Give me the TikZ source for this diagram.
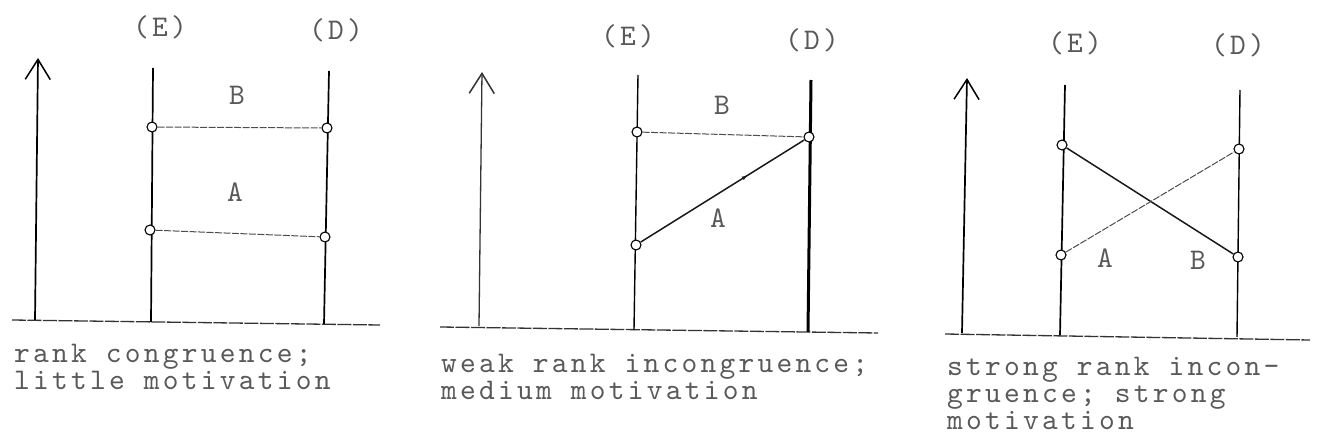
\documentclass[tikz,border=0pt]{standalone}
\usepackage{fontspec}
\usetikzlibrary{arrows.meta,decorations.markings}
\newfontfamily\typew{lmmono10-regular.otf}[LetterSpace=10.8]
\newcommand{\typewfont}{\typew\fontsize{30}{27}\selectfont}
\tikzset{
  txt/.style={font=\typewfont, text=black!65, inner sep=0pt},
  captxt/.style={txt, anchor=base west, align=left},
  lbltxt/.style={txt, anchor=base},
  abtxt/.style={txt, anchor=center},
  vline/.style={line width=1.7pt, black},
  baseln/.style={line width=1.3pt, black!80, dash pattern=on 14pt off 1.5pt},
  axisline/.style={line width=1.7pt, black, -{Straight Barb[length=20pt,width=25pt,line width=1.5pt]}},
  dotpt/.style={circle, draw=black, line width=1.1pt, fill=white, minimum size=10pt, inner sep=0pt},
  conn/.style={line width=1pt, black!70, dash pattern=on 7pt off 1.5pt},
  connsolid/.style={line width=1.5pt, black!90},
}
\begin{document}
\begin{tikzpicture}[x=1pt,y=-1pt]
\useasboundingbox (0,0) rectangle (1318,444);

% ---------------- Panel 1 ----------------
\coordinate (p1b0) at (12,320);
\coordinate (p1b1) at (380,325);
\draw[baseln] (p1b0) -- (p1b1);
\coordinate (p1a0) at (35,320);
\coordinate (p1a1) at (38,58);
\draw[axisline] (p1a0) -- (p1a1);
\coordinate (p1e0) at (153,68);
\coordinate (p1e1) at (151,322);
\draw[vline] (p1e0) -- (p1e1);
\coordinate (p1d0) at (329,71);
\coordinate (p1d1) at (324,324);
\draw[vline] (p1d0) -- (p1d1);
\node[dotpt] (p1E1) at (152,127) {};
\node[dotpt] (p1E2) at (150,230) {};
\node[dotpt] (p1D1) at (327,128) {};
\node[dotpt] (p1D2) at (325,237) {};
\draw[conn] (p1E1) -- (p1D1);
\draw[conn] (p1E2) -- (p1D2);
\node[lbltxt] (p1El) at (160,37) {(E)};
\node[lbltxt] (p1Dl) at (336,40) {(D)};
\node[abtxt] (p1B) at (237,95) {B};
\node[abtxt] (p1A) at (235,192) {A};
\node[captxt] (p1c) at (14,389) {rank congruence;\\little motivation};

% ---------------- Panel 2 ----------------
\coordinate (p2b0) at (440,327);
\coordinate (p2b1) at (878,333);
\draw[baseln] (p2b0) -- (p2b1);
\coordinate (p2a0) at (479,326);
\coordinate (p2a1) at (482,72);
\draw[axisline, black!80, line width=1.3pt] (p2a0) -- (p2a1);
\coordinate (p2e0) at (638,75);
\coordinate (p2e1) at (634,330);
\draw[vline, line width=1.4pt] (p2e0) -- (p2e1);
\coordinate (p2d0) at (811,80);
\coordinate (p2d1) at (808,332);
\draw[vline, line width=3pt] (p2d0) -- (p2d1);
\node[dotpt] (p2E1) at (637,132) {};
\node[dotpt] (p2E2) at (636,245) {};
\node[dotpt] (p2D1) at (809,137) {};
\draw[conn] (p2E1) -- (p2D1);
\draw[connsolid, postaction={decorate}, decoration={markings, mark=at position 0.66 with {\arrow{Latex[length=7pt,width=4pt]}}}] (p2E2) -- (p2D1);
\node[lbltxt] (p2El) at (628,46) {(E)};
\node[lbltxt] (p2Dl) at (812,50) {(D)};
\node[abtxt] (p2B) at (722,105) {B};
\node[abtxt] (p2A) at (718,218) {A};
\node[captxt] (p2c) at (441,399) {weak rank incongruence;\\medium motivation};

% ---------------- Panel 3 ----------------
\coordinate (p3b0) at (945,334);
\coordinate (p3b1) at (1310,340);
\draw[baseln] (p3b0) -- (p3b1);
\coordinate (p3a0) at (962,333);
\coordinate (p3a1) at (967,78);
\draw[axisline] (p3a0) -- (p3a1);
\coordinate (p3e0) at (1065,85);
\coordinate (p3e1) at (1060,335);
\draw[vline] (p3e0) -- (p3e1);
\coordinate (p3d0) at (1240,90);
\coordinate (p3d1) at (1237,337);
\draw[vline, line width=1.4pt] (p3d0) -- (p3d1);
\node[dotpt] (p3E1) at (1062,145) {};
\node[dotpt] (p3E2) at (1061,255) {};
\node[dotpt] (p3D1) at (1239,149) {};
\node[dotpt] (p3D2) at (1238,257) {};
\draw[connsolid] (p3E1) -- (p3D2);
\draw[conn] (p3E2) -- (p3D1);
\node[lbltxt] (p3El) at (1075,53) {(E)};
\node[lbltxt] (p3Dl) at (1238,55) {(D)};
\node[abtxt] (p3A) at (1105,258) {A};
\node[abtxt] (p3B) at (1198,260) {B};
\node[captxt] (p3c) at (947,429) {strong rank incon-\\gruence; strong\\motivation};
\end{tikzpicture}
\end{document}
